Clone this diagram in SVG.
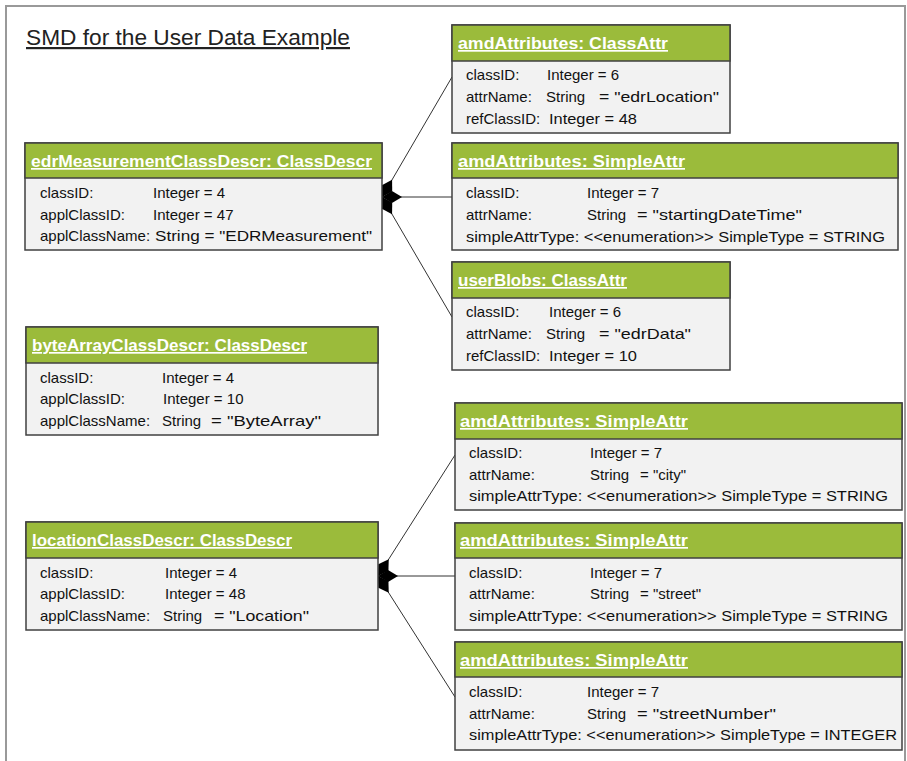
<svg xmlns="http://www.w3.org/2000/svg" width="907" height="761" viewBox="0 0 907 761">
  <style>
    .frame { fill: #ffffff; stroke: #999999; stroke-width: 2; }
    .title { font-family: "Liberation Sans", Arial, sans-serif; font-size: 22px; fill: #222222; text-decoration: underline; }
    .hdr { fill: #9bbb3b; stroke: #404040; stroke-width: 1.5; }
    .body { fill: #f2f2f2; stroke: #404040; stroke-width: 1.5; }
    .name { font-family: "Liberation Sans", Arial, sans-serif; font-size: 17px; font-weight: bold; fill: #ffffff; text-decoration: underline; }
    .attr { font-family: "Liberation Sans", Arial, sans-serif; font-size: 15px; fill: #111111; }
    .link { stroke: #333333; stroke-width: 1; fill: none; marker-start: url(#diamond); }
  </style>
  <defs>
    <!-- filled composition diamond at the owning class -->
    <marker id="diamond" viewBox="0 -6 20 12" refX="0" refY="0" markerWidth="20" markerHeight="12" markerUnits="userSpaceOnUse" orient="auto">
      <path d="M0,0 L10,-6 L20,0 L10,6 Z" fill="#000000"/>
    </marker>
  </defs>

  <!-- drawing frame -->
  <rect class="frame" x="6" y="6" width="899" height="770"/>
  <text class="title" x="26" y="45" textLength="324" lengthAdjust="spacingAndGlyphs">SMD for the User Data Example</text>

  <!-- composition links -->
  <g id="connectors">
    <line class="link" x1="382" y1="197" x2="452" y2="77"/>
    <line class="link" x1="382" y1="197" x2="452" y2="197"/>
    <line class="link" x1="382" y1="197" x2="452" y2="317"/>
    <line class="link" x1="378" y1="576" x2="455" y2="455"/>
    <line class="link" x1="378" y1="576" x2="455" y2="576"/>
    <line class="link" x1="378" y1="576" x2="455" y2="697"/>
  </g>

  <g id="edrMeasurementClassDescr">
    <rect class="body" x="25" y="143" width="357" height="107"/>
    <rect class="hdr" x="25" y="143" width="357" height="35"/>
    <text class="name" x="31" y="167" textLength="341" lengthAdjust="spacingAndGlyphs">edrMeasurementClassDescr: ClassDescr</text>
    <text class="attr" y="198"><tspan x="40">classID:</tspan><tspan x="153">Integer = 4</tspan></text>
    <text class="attr" y="220"><tspan x="40">applClassID:</tspan><tspan x="153">Integer = 47</tspan></text>
    <text class="attr" y="241"><tspan x="40">applClassName:</tspan><tspan x="155" textLength="217" lengthAdjust="spacingAndGlyphs">String = "EDRMeasurement"</tspan></text>
  </g>

  <g id="edrLocationAttr">
    <rect class="body" x="452" y="25" width="278" height="108"/>
    <rect class="hdr" x="452" y="25" width="278" height="36"/>
    <text class="name" x="458" y="49" textLength="210" lengthAdjust="spacingAndGlyphs">amdAttributes: ClassAttr</text>
    <text class="attr" y="80"><tspan x="466">classID:</tspan><tspan x="547">Integer = 6</tspan></text>
    <text class="attr" y="102"><tspan x="466">attrName:</tspan><tspan x="546">String</tspan><tspan x="599" textLength="120" lengthAdjust="spacingAndGlyphs">= "edrLocation"</tspan></text>
    <text class="attr" y="124"><tspan x="466">refClassID:</tspan><tspan x="549" textLength="88" lengthAdjust="spacingAndGlyphs">Integer = 48</tspan></text>
  </g>

  <g id="startingDateTimeAttr">
    <rect class="body" x="452" y="143" width="446" height="107"/>
    <rect class="hdr" x="452" y="143" width="446" height="35"/>
    <text class="name" x="458" y="167" textLength="227" lengthAdjust="spacingAndGlyphs">amdAttributes: SimpleAttr</text>
    <text class="attr" y="198"><tspan x="466">classID:</tspan><tspan x="587">Integer = 7</tspan></text>
    <text class="attr" y="220"><tspan x="466">attrName:</tspan><tspan x="587">String</tspan><tspan x="637" textLength="165" lengthAdjust="spacingAndGlyphs">= "startingDateTime"</tspan></text>
    <text class="attr" y="242" x="466" textLength="419" lengthAdjust="spacingAndGlyphs">simpleAttrType: &lt;&lt;enumeration&gt;&gt; SimpleType = STRING</text>
  </g>

  <g id="userBlobsAttr">
    <rect class="body" x="452" y="262" width="278" height="108"/>
    <rect class="hdr" x="452" y="262" width="278" height="36"/>
    <text class="name" x="458" y="286" textLength="169" lengthAdjust="spacingAndGlyphs">userBlobs: ClassAttr</text>
    <text class="attr" y="317"><tspan x="466">classID:</tspan><tspan x="549">Integer = 6</tspan></text>
    <text class="attr" y="339"><tspan x="466">attrName:</tspan><tspan x="546">String</tspan><tspan x="599" textLength="92" lengthAdjust="spacingAndGlyphs">= "edrData"</tspan></text>
    <text class="attr" y="361"><tspan x="466">refClassID:</tspan><tspan x="549" textLength="88" lengthAdjust="spacingAndGlyphs">Integer = 10</tspan></text>
  </g>

  <g id="byteArrayClassDescr">
    <rect class="body" x="26" y="327" width="352" height="108"/>
    <rect class="hdr" x="26" y="327" width="352" height="36"/>
    <text class="name" x="32" y="351" textLength="275" lengthAdjust="spacingAndGlyphs">byteArrayClassDescr: ClassDescr</text>
    <text class="attr" y="383"><tspan x="40">classID:</tspan><tspan x="162">Integer = 4</tspan></text>
    <text class="attr" y="404"><tspan x="40">applClassID:</tspan><tspan x="163">Integer = 10</tspan></text>
    <text class="attr" y="426"><tspan x="40">applClassName:</tspan><tspan x="162">String</tspan><tspan x="211" textLength="110" lengthAdjust="spacingAndGlyphs">= "ByteArray"</tspan></text>
  </g>

  <g id="cityAttr">
    <rect class="body" x="455" y="403" width="447" height="107"/>
    <rect class="hdr" x="455" y="403" width="447" height="36"/>
    <text class="name" x="460" y="427" textLength="228" lengthAdjust="spacingAndGlyphs">amdAttributes: SimpleAttr</text>
    <text class="attr" y="458"><tspan x="469">classID:</tspan><tspan x="590">Integer = 7</tspan></text>
    <text class="attr" y="480"><tspan x="469">attrName:</tspan><tspan x="590">String</tspan><tspan x="640">= "city"</tspan></text>
    <text class="attr" y="501" x="469" textLength="419" lengthAdjust="spacingAndGlyphs">simpleAttrType: &lt;&lt;enumeration&gt;&gt; SimpleType = STRING</text>
  </g>

  <g id="locationClassDescr">
    <rect class="body" x="26" y="522" width="352" height="108"/>
    <rect class="hdr" x="26" y="522" width="352" height="36"/>
    <text class="name" x="32" y="546" textLength="260" lengthAdjust="spacingAndGlyphs">locationClassDescr: ClassDescr</text>
    <text class="attr" y="578"><tspan x="40">classID:</tspan><tspan x="165">Integer = 4</tspan></text>
    <text class="attr" y="599"><tspan x="40">applClassID:</tspan><tspan x="165">Integer = 48</tspan></text>
    <text class="attr" y="621"><tspan x="40">applClassName:</tspan><tspan x="163">String</tspan><tspan x="214" textLength="95" lengthAdjust="spacingAndGlyphs">= "Location"</tspan></text>
  </g>

  <g id="streetAttr">
    <rect class="body" x="455" y="523" width="447" height="107"/>
    <rect class="hdr" x="455" y="523" width="447" height="35"/>
    <text class="name" x="460" y="546" textLength="228" lengthAdjust="spacingAndGlyphs">amdAttributes: SimpleAttr</text>
    <text class="attr" y="578"><tspan x="469">classID:</tspan><tspan x="590">Integer = 7</tspan></text>
    <text class="attr" y="599"><tspan x="469">attrName:</tspan><tspan x="590">String</tspan><tspan x="640">= "street"</tspan></text>
    <text class="attr" y="621" x="469" textLength="419" lengthAdjust="spacingAndGlyphs">simpleAttrType: &lt;&lt;enumeration&gt;&gt; SimpleType = STRING</text>
  </g>

  <g id="streetNumberAttr">
    <rect class="body" x="455" y="642" width="447" height="108"/>
    <rect class="hdr" x="455" y="642" width="447" height="35"/>
    <text class="name" x="460" y="666" textLength="228" lengthAdjust="spacingAndGlyphs">amdAttributes: SimpleAttr</text>
    <text class="attr" y="697"><tspan x="469">classID:</tspan><tspan x="587">Integer = 7</tspan></text>
    <text class="attr" y="719"><tspan x="469">attrName:</tspan><tspan x="587">String</tspan><tspan x="637" textLength="139" lengthAdjust="spacingAndGlyphs">= "streetNumber"</tspan></text>
    <text class="attr" y="740" x="469" textLength="428" lengthAdjust="spacingAndGlyphs">simpleAttrType: &lt;&lt;enumeration&gt;&gt; SimpleType = INTEGER</text>
  </g>
</svg>
